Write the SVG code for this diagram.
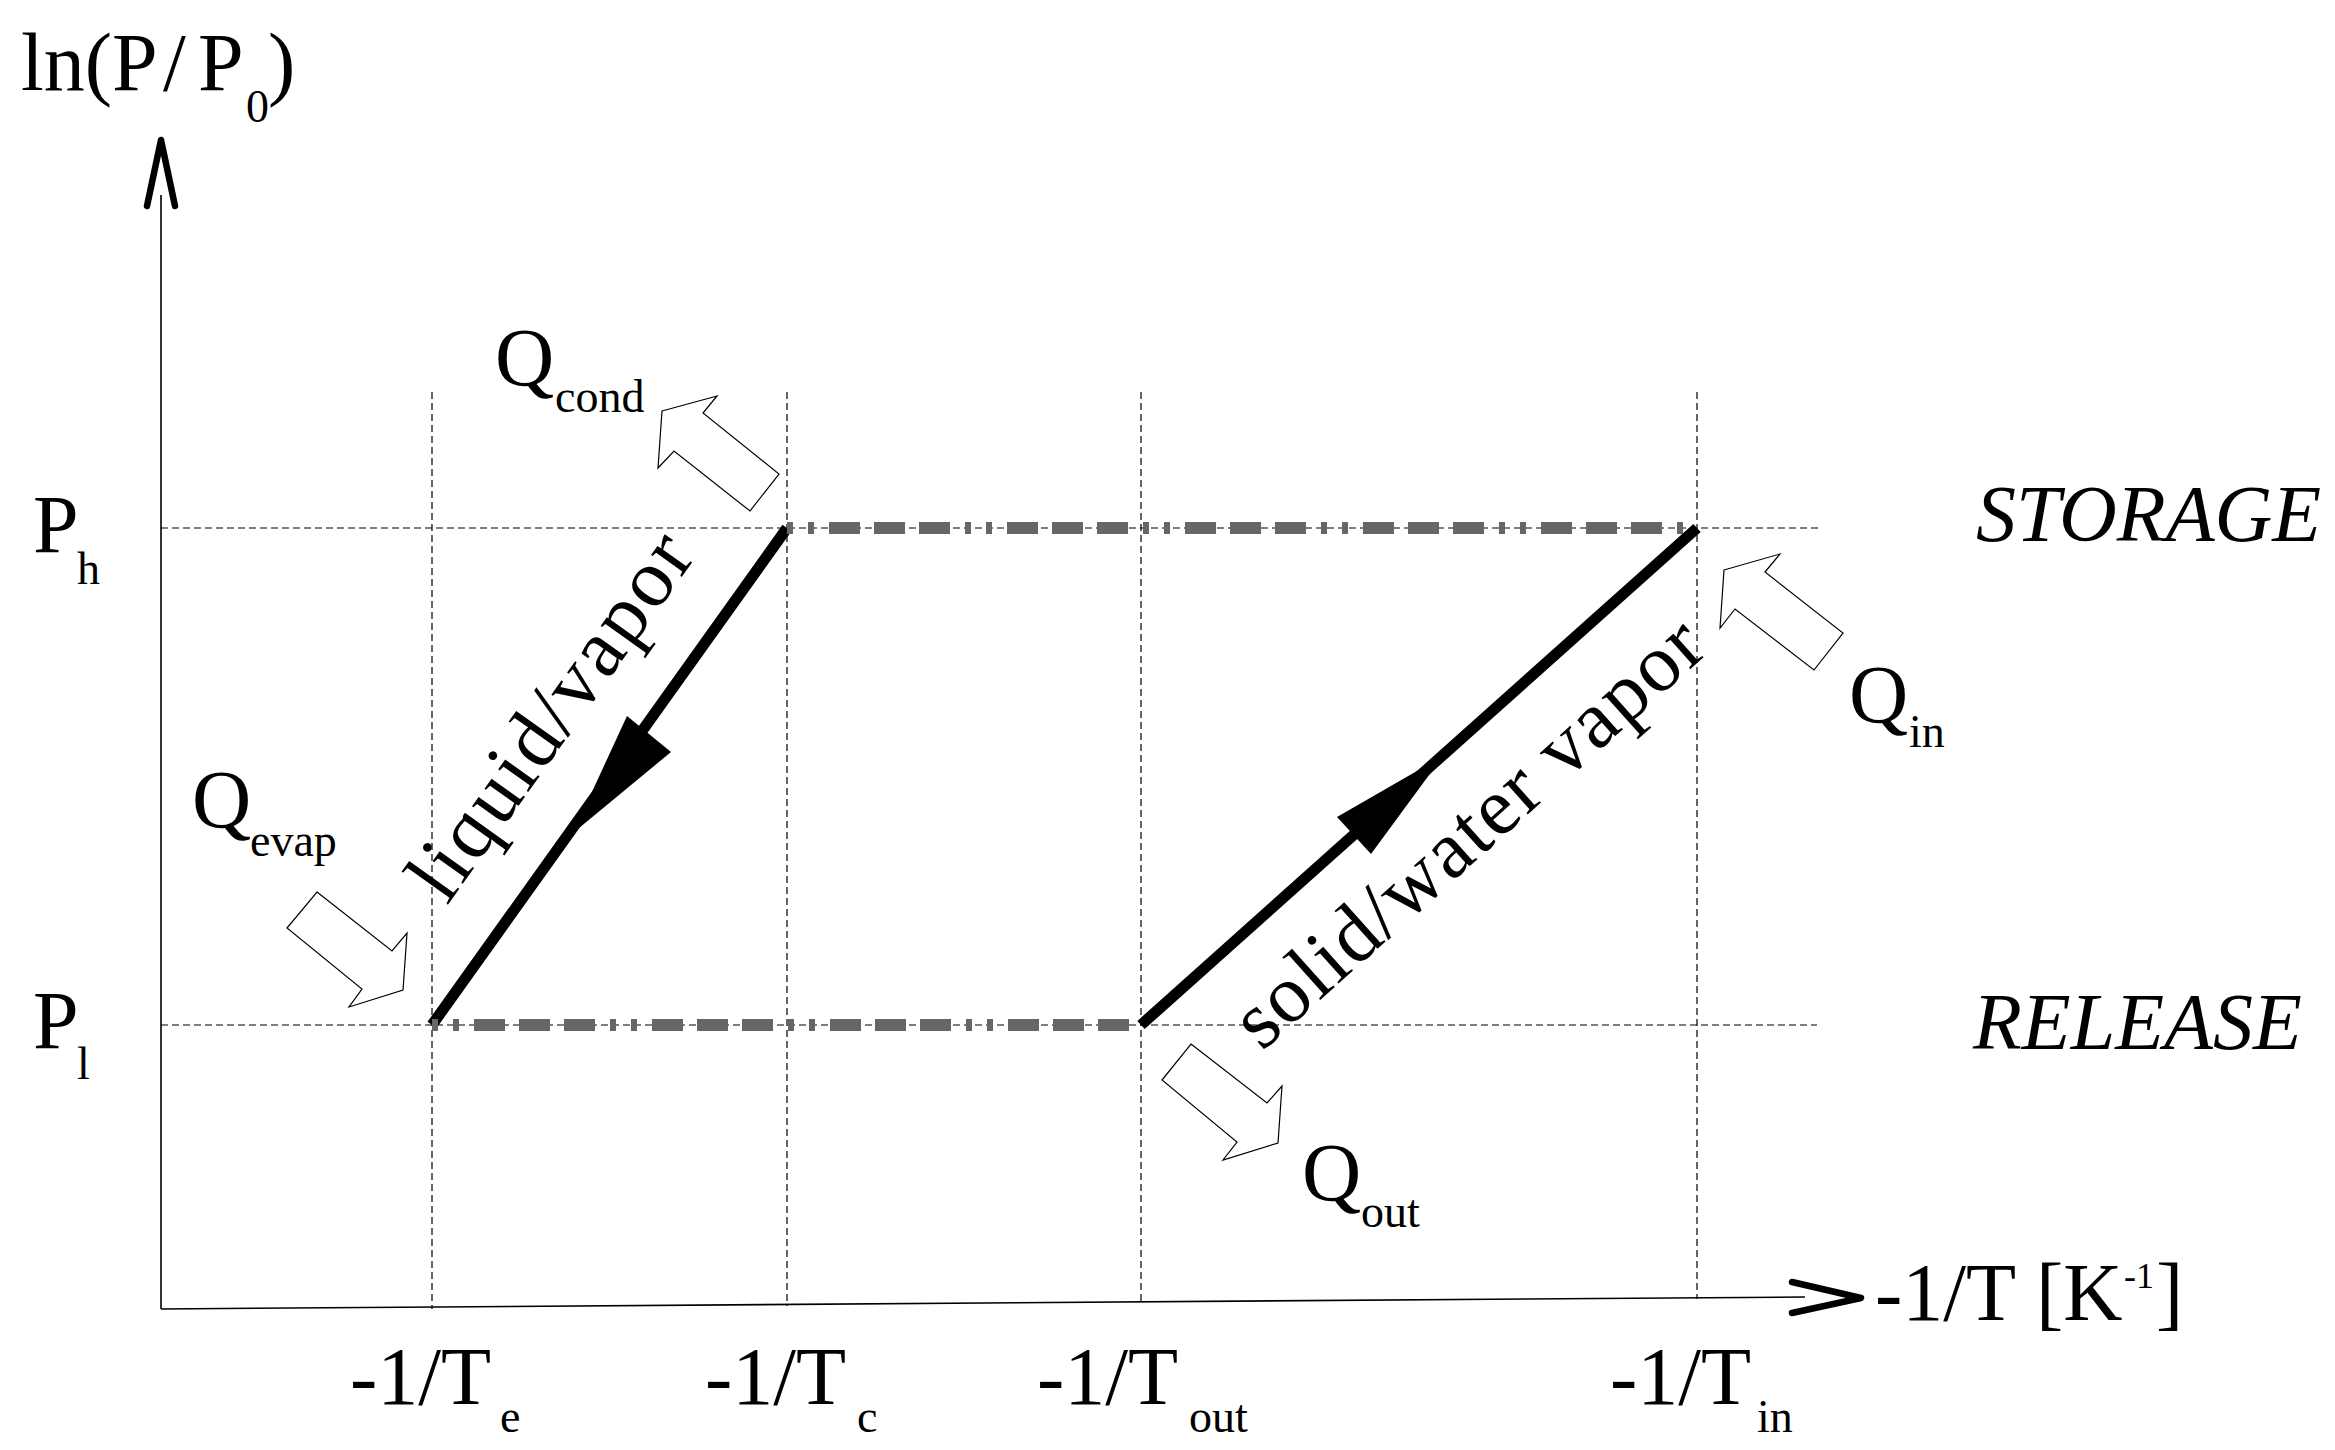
<svg xmlns="http://www.w3.org/2000/svg" width="2335" height="1450" viewBox="0 0 2335 1450">
<style>
text { font-family: "Liberation Serif", "Times New Roman", serif; fill: #000; }
.lbl { font-size: 82px; }
.sub { font-size: 46px; }
.sup { font-size: 36px; }
.ital { font-style: italic; font-size: 80px; }
.grid { stroke: #000; stroke-width: 1.2; stroke-dasharray: 7 4; fill: none; }
.axis { stroke: #000; stroke-width: 1.6; fill: none; }
.head { stroke: #000; stroke-width: 6.5; fill: none; stroke-linecap: round; stroke-linejoin: round; }
.iso { stroke: #666; stroke-width: 12; stroke-dasharray: 31 14 31 14 31 15 6 15 6 15; stroke-dashoffset: 136; fill: none; }
.phase { stroke: #000; stroke-width: 11; fill: none; }
.tip { fill: #000; stroke: none; }
.harrow { fill: #fff; stroke: #000; stroke-width: 1.2; stroke-linejoin: miter; }
</style>
<rect width="2335" height="1450" fill="#fff"/>

<g id="grid">
  <path class="grid" d="M161 528 H1820 M161 1025 H1817"/>
  <path class="grid" d="M432 392 V1309 M787 392 V1306 M1141 392 V1303 M1697 392 V1299"/>
</g>

<g id="axes">
  <path class="axis" d="M161 195 V1309"/>
  <path class="head" d="M147 206 L161 140 L175 206"/>
  <path class="axis" d="M161 1309 L1805 1297"/>
  <path class="head" d="M1792 1282 L1861 1298 L1792 1313"/>
</g>

<g id="connectors">
  <g id="liquid-vapor-line">
    <path class="phase" d="M787 528 L432 1025"/>
    <polygon class="tip" points="573,833 627,716 671,752"/>
  </g>
  <g id="solid-vapor-line">
    <path class="phase" d="M1141 1025 L1697 528"/>
    <polygon class="tip" points="1443,756 1337,817 1371,854"/>
  </g>
  <path id="storage-isobar" class="iso" d="M787 528 H1697"/>
  <path id="release-isobar" class="iso" d="M432 1025 H1141"/>
</g>

<g id="heat-arrows">
  <polygon id="arrow-cond" class="harrow" points="662,411 717,396 703,413 779,474 750,511 674,451 658,468"/>
  <polygon id="arrow-evap" class="harrow" points="317,892 392,951 407,933 403,990 349,1007 362,989 287,928"/>
  <polygon id="arrow-out" class="harrow" points="1191,1044 1267,1103 1282,1086 1278,1143 1223,1160 1237,1142 1162,1080"/>
  <polygon id="arrow-in" class="harrow" points="1724,570 1780,554 1765,572 1843,633 1814,670 1735,609 1720,628"/>
</g>

<g id="axis-labels">
  <text class="lbl" y="90"><tspan x="21">ln(P</tspan><tspan x="163">/</tspan><tspan x="198">P</tspan><tspan class="sub" x="246" y="122">0</tspan><tspan x="268" y="90">)</tspan></text>
  <text class="lbl" y="1320"><tspan x="1875">-1/T</tspan><tspan x="2036">[K</tspan><tspan class="sup" x="2124" y="1288">-1</tspan><tspan x="2156" y="1320">]</tspan></text>
  <text class="lbl" y="552"><tspan x="33">P</tspan><tspan class="sub" x="77" y="584">h</tspan></text>
  <text class="lbl" y="1048"><tspan x="33">P</tspan><tspan class="sub" x="77" y="1079">l</tspan></text>
  <text class="lbl" y="1404"><tspan x="350">-1/T</tspan><tspan class="sub" x="500" y="1432">e</tspan></text>
  <text class="lbl" y="1404"><tspan x="705">-1/T</tspan><tspan class="sub" x="857" y="1432">c</tspan></text>
  <text class="lbl" y="1404"><tspan x="1037">-1/T</tspan><tspan class="sub" x="1189" y="1432">out</tspan></text>
  <text class="lbl" y="1404"><tspan x="1610">-1/T</tspan><tspan class="sub" x="1757" y="1432">in</tspan></text>
</g>

<g id="heat-labels">
  <text id="q-cond" class="lbl" y="385"><tspan x="495">Q</tspan><tspan class="sub" x="555" y="412">cond</tspan></text>
  <text id="q-evap" class="lbl" y="827"><tspan x="192">Q</tspan><tspan class="sub" x="250" y="856">evap</tspan></text>
  <text id="q-out" class="lbl" y="1200"><tspan x="1302">Q</tspan><tspan class="sub" x="1361" y="1227">out</tspan></text>
  <text id="q-in" class="lbl" y="722"><tspan x="1849">Q</tspan><tspan class="sub" x="1909" y="747">in</tspan></text>
</g>

<g id="phase-labels">
  <text class="lbl" transform="translate(447,906) rotate(-54.5)" textLength="430" lengthAdjust="spacing">liquid/vapor</text>
  <text class="lbl" transform="translate(1262,1052) rotate(-41.8)" textLength="600" lengthAdjust="spacing">solid/water vapor</text>
</g>

<g id="mode-labels">
  <text class="ital" x="1976" y="541">STORAGE</text>
  <text class="ital" x="1973" y="1049">RELEASE</text>
</g>
</svg>
